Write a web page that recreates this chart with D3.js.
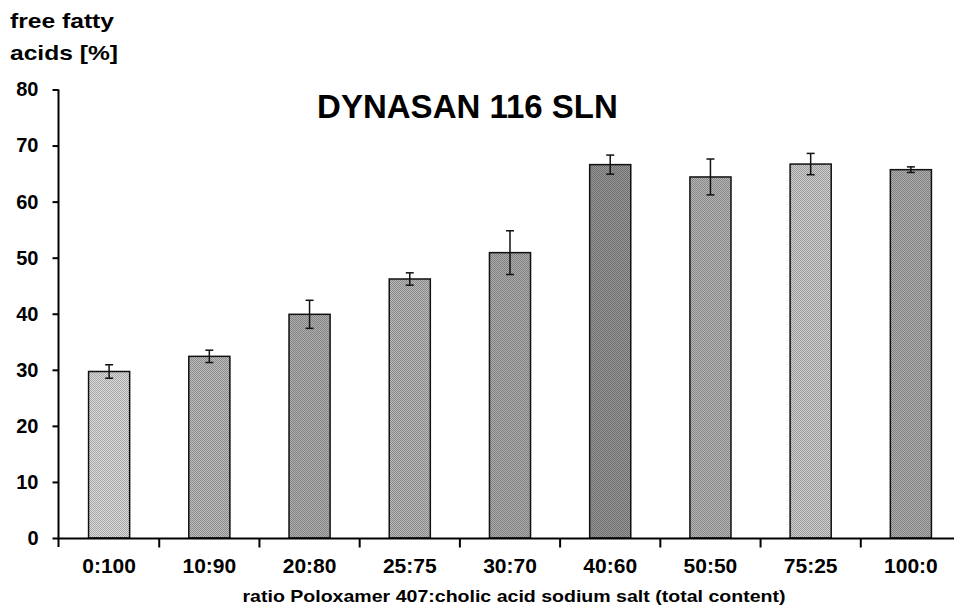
<!DOCTYPE html>
<html>
<head>
<meta charset="utf-8">
<script src="https://cdn.jsdelivr.net/npm/d3@7"></script>
<style>
  html, body { margin: 0; padding: 0; background: #fff; }
  svg { display: block; }
  text { font-family: "Liberation Sans", Arial, sans-serif; font-weight: bold; fill: #000; }
</style>
</head>
<body>
<svg id="chart" width="954" height="608"></svg>
<script>
// ---- data ----
const categories = ["0:100", "10:90", "20:80", "25:75", "30:70", "40:60", "50:50", "75:25", "100:0"];
const values = [29.7, 32.4, 39.9, 46.2, 50.9, 66.6, 64.4, 66.7, 65.7];
const errors = [1.2, 1.1, 2.5, 1.1, 3.9, 1.7, 3.2, 1.9, 0.5];
const yTicks = [0, 10, 20, 30, 40, 50, 60, 70, 80];
const title = "DYNASAN 116 SLN";
const yLabelLines = ["free fatty", "acids [%]"];
const xLabel = "ratio Poloxamer 407:cholic acid sodium salt (total content)";

// ---- styles (halftone grey per bar) ----
const barShades = ["#c2c2c2", "#a6a6a6", "#9a9a9a", "#a2a2a2", "#979797", "#848484", "#a0a0a0", "#b6b6b6", "#999999"];

const svg = d3.select("#chart");

const x = d3.scaleBand().domain(categories).range([59, 961]).padding(0);
const y = d3.scaleLinear().domain([0, 80]).range([538, 89.5]);

// halftone-like patterns
const defs = svg.append("defs");
barShades.forEach((c, i) => {
  const p = defs.append("pattern")
    .attr("id", "ht" + i)
    .attr("width", 2).attr("height", 2)
    .attr("patternUnits", "userSpaceOnUse");
  const base = d3.color(c);
  p.append("rect").attr("width", 2).attr("height", 2).attr("fill", base.brighter(0.35));
  p.append("rect").attr("x", 0).attr("y", 0).attr("width", 1).attr("height", 1).attr("fill", base.darker(0.45));
  p.append("rect").attr("x", 1).attr("y", 1).attr("width", 1).attr("height", 1).attr("fill", base.darker(0.45));
});

const barW = x.bandwidth() * 0.41;

// bars
svg.append("g").selectAll("rect")
  .data(categories)
  .join("rect")
  .attr("x", d => x(d) + x.bandwidth() / 2 - barW / 2)
  .attr("y", (d, i) => y(values[i]))
  .attr("width", barW)
  .attr("height", (d, i) => y(0) - y(values[i]))
  .attr("fill", (d, i) => "url(#ht" + i + ")")
  .attr("stroke", "#111")
  .attr("stroke-width", 1.5);

// error bars
const eg = svg.append("g").attr("stroke", "#111").attr("stroke-width", 1.5);
categories.forEach((c, i) => {
  const cx = x(c) + x.bandwidth() / 2;
  const hi = y(values[i] + errors[i]);
  const lo = y(values[i] - errors[i]);
  eg.append("line").attr("x1", cx).attr("x2", cx).attr("y1", hi).attr("y2", lo);
  eg.append("line").attr("x1", cx - 4).attr("x2", cx + 4).attr("y1", hi).attr("y2", hi);
  eg.append("line").attr("x1", cx - 4).attr("x2", cx + 4).attr("y1", lo).attr("y2", lo);
});

// y axis
const yAxis = svg.append("g")
  .attr("transform", "translate(58.5,0)")
  .call(d3.axisLeft(y).tickValues(yTicks).tickSize(6).tickPadding(14));
yAxis.select(".domain").attr("d", `M-0,${y(80)}H0V${y(0) + 9}`).attr("stroke", "#000").attr("stroke-width", 2);
yAxis.selectAll(".tick line").attr("stroke", "#000").attr("stroke-width", 2);
yAxis.selectAll(".tick text")
  .style("font-size", "20px").style("font-family", "Liberation Sans, Arial, sans-serif").style("font-weight", "bold")
  .attr("fill", "#000");

// x axis
const xAxis = svg.append("g")
  .attr("transform", "translate(0,538.5)")
  .call(d3.axisBottom(x).tickSize(0).tickPadding(20));
xAxis.select(".domain").attr("d", "M58,0H954").attr("stroke", "#000").attr("stroke-width", 2);
xAxis.selectAll(".tick line").remove();
xAxis.selectAll(".tick text")
  .style("font-size", "21px").style("font-family", "Liberation Sans, Arial, sans-serif").style("font-weight", "bold")
  .attr("fill", "#000");
// boundary ticks between categories
xAxis.append("g").selectAll("line")
  .data(categories.slice(1))
  .join("line")
  .attr("x1", d => x(d)).attr("x2", d => x(d))
  .attr("y1", 0).attr("y2", 9)
  .attr("stroke", "#000").attr("stroke-width", 2);

// title
svg.append("text")
  .attr("x", 467.5).attr("y", 118)
  .attr("text-anchor", "middle")
  .style("font-size", "33px")
  .text(title);

// y label
svg.append("g").selectAll("text")
  .data(yLabelLines)
  .join("text")
  .attr("x", 10)
  .attr("y", (d, i) => 28 + i * 32)
  .attr("textLength", (d, i) => i === 0 ? 104 : 108)
  .attr("lengthAdjust", "spacingAndGlyphs")
  .style("font-size", "21px")
  .text(d => d);

// x label
svg.append("text")
  .attr("x", 242.5).attr("y", 602)
  .attr("textLength", 543)
  .attr("lengthAdjust", "spacingAndGlyphs")
  .style("font-size", "16.5px")
  .text(xLabel);
</script>
</body>
</html>
